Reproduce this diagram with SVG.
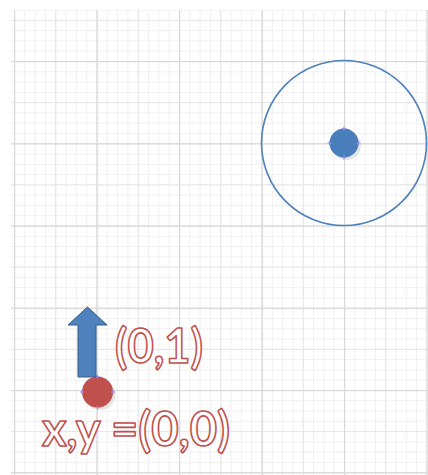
<svg xmlns="http://www.w3.org/2000/svg" width="428" height="475" viewBox="0 0 428 475">
<style>
.lbl{font-family:Lato,"Open Sans","Liberation Sans",sans-serif;font-size:48px;font-weight:bold;fill:#ffffff;stroke:#c0504d;stroke-width:1.6;stroke-linejoin:round}
.h{stroke:#9a8cf0;stroke-width:1.2}
</style>
<defs>
<pattern id="minor" patternUnits="userSpaceOnUse" x="14" y="61" width="10.3125" height="10.28">
<rect x="0" y="0" width="1" height="10.28" fill="#f0f0f0"/>
<rect x="0" y="0" width="10.3125" height="1" fill="#f0f0f0"/>
</pattern>
<pattern id="half" patternUnits="userSpaceOnUse" x="14" y="61" width="41.25" height="41.12">
<rect x="0" y="0" width="1" height="41.12" fill="#e6e6e6"/>
<rect x="0" y="0" width="41.25" height="1" fill="#e6e6e6"/>
</pattern>
<pattern id="major" patternUnits="userSpaceOnUse" x="14" y="61" width="82.5" height="82.24">
<rect x="0" y="0" width="1.2" height="82.24" fill="#d9d9d9"/>
<rect x="0" y="0" width="82.5" height="1.2" fill="#d9d9d9"/>
</pattern>
</defs>
<rect width="428" height="475" fill="#ffffff"/>
<g id="grid">
<rect x="11" y="10" width="417" height="465" fill="url(#minor)"/>
<rect x="11" y="10" width="417" height="465" fill="url(#half)"/>
<rect x="11" y="10" width="417" height="465" fill="url(#major)"/>
</g>
<g id="orbit">
<circle cx="344" cy="143" r="82.5" fill="none" stroke="#4f81bd" stroke-width="1.6"/>
</g>
<g id="target">
<circle cx="346.5" cy="145.5" r="14.5" fill="#d9d9d9" opacity="0.7"/>
<circle cx="344" cy="143" r="14.5" fill="#4a7ebb"/>
<path class="h" d="M342 128.5h4M344 126.5v4M342 157.5h4M344 155.5v4M329.5 141v4M327.5 143h4M358.5 141v4M356.5 143h4"/>
</g>
<g id="origin">
<circle cx="100" cy="394.5" r="15.5" fill="#d9d9d9" opacity="0.7"/>
<circle cx="97.5" cy="392" r="15.5" fill="#c0504d"/>
<path class="h" d="M95.5 376.5h4M97.5 374.5v4M95.5 407.5h4M97.5 405.5v4M82 390v4M80 392h4M113 390v4M111 392h4"/>
</g>
<g id="connectors">
<polygon points="87.5,307 107,325 96,325 96,377 78,377 78,325 68,325" fill="#4f81bd" stroke="#385d8a" stroke-width="1"/>
</g>
<g id="labels">
<text class="lbl" x="115" y="363" textLength="88" lengthAdjust="spacingAndGlyphs">(0,1)</text>
<text class="lbl" x="42" y="446" textLength="188" lengthAdjust="spacingAndGlyphs">x,y =(0,0)</text>
</g>
</svg>
